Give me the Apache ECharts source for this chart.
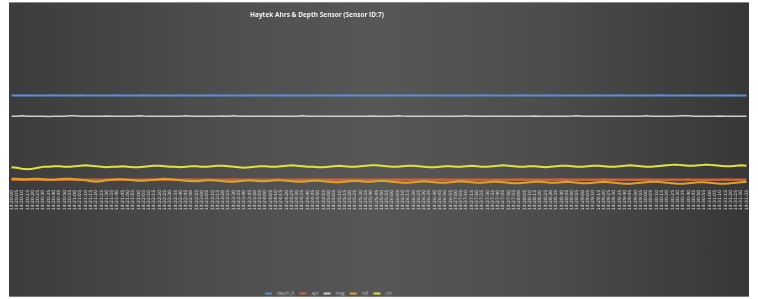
<!DOCTYPE html>
<html>
<head>
<meta charset="utf-8">
<script src="https://cdn.jsdelivr.net/npm/echarts@6/dist/echarts.min.js"></script>
<style>
  html, body { margin: 0; padding: 0; background: #fff; }
  #chart {
    position: absolute; left: 9px; top: 2px; width: 740px; height: 295px;
    background: linear-gradient(to right, #3c3c3c 0%, #4f4f4f 30%, #575757 50%, #4d4d4d 72%, #373737 100%);
    border-top: 1px solid #8a8a8a; border-bottom: 1px solid #7a7a7a;
    box-sizing: border-box;
  }
</style>
</head>
<body>
<div id="chart"></div>
<script>
'use strict';

var titleText = 'Haytek Ahrs & Depth Sensor (Sensor ID:7)';
var seriesNames = ['depth_ft', 'apr', 'mag', 'roll', 'cm'];

var timeLabels = (
  '14:20:00 14:20:05 14:20:10 14:20:15 14:20:20 14:20:25 14:20:30 14:20:35 14:20:40 14:20:45 14:20:50 14:20:55 ' +
  '14:21:00 14:21:05 14:21:10 14:21:15 14:21:20 14:21:25 14:21:30 14:21:35 14:21:40 14:21:45 14:21:50 14:21:55 ' +
  '14:22:00 14:22:05 14:22:10 14:22:15 14:22:20 14:22:25 14:22:30 14:22:35 14:22:40 14:22:45 14:22:50 14:22:55 ' +
  '14:23:00 14:23:05 14:23:10 14:23:15 14:23:20 14:23:25 14:23:30 14:23:35 14:23:40 14:23:45 14:23:50 14:23:55 ' +
  '14:24:00 14:24:05 14:24:10 14:24:15 14:24:20 14:24:25 14:24:30 14:24:35 14:24:40 14:24:45 14:24:50 14:24:55 ' +
  '14:25:00 14:25:05 14:25:10 14:25:15 14:25:20 14:25:25 14:25:30 14:25:35 14:25:40 14:25:45 14:25:50 14:25:55 ' +
  '14:26:00 14:26:05 14:26:10 14:26:15 14:26:20 14:26:25 14:26:30 14:26:35 14:26:40 14:26:45 14:26:50 14:26:55 ' +
  '14:27:00 14:27:05 14:27:10 14:27:15 14:27:20 14:27:25 14:27:30 14:27:35 14:27:40 14:27:45 14:27:50 14:27:55 ' +
  '14:28:00 14:28:05 14:28:10 14:28:15 14:28:20 14:28:25 14:28:30 14:28:35 14:28:40 14:28:45 14:28:50 14:28:55 ' +
  '14:29:00 14:29:05 14:29:10 14:29:15 14:29:20 14:29:25 14:29:30 14:29:35 14:29:40 14:29:45 14:29:50 14:29:55 ' +
  '14:30:00 14:30:05 14:30:10 14:30:15 14:30:20 14:30:25 14:30:30 14:30:35 14:30:40 14:30:45 14:30:50 14:30:55 ' +
  '14:31:00 14:31:05 14:31:10 14:31:15 14:31:20 14:31:25 14:31:30 14:31:35'
).split(' ');

var depthFt = [
  93, 93, 93.2, 93, 93, 92.9, 93, 93, 93.1, 93,
  93, 93, 93, 93.2, 93, 93, 92.9, 93, 93, 93,
  93.1, 93, 93, 93, 93, 93.2, 93, 93, 92.9, 93,
  93, 93, 93.1, 93, 93, 93, 93, 93, 93.2, 93,
  93, 92.9, 93, 93, 93, 93.1, 93, 93, 93, 93,
  93, 93.2, 93, 93, 92.9, 93, 93, 93, 93.1, 93,
  93, 93, 93, 93.2, 93, 93, 93, 92.9, 93, 93,
  93, 93.1, 93, 93, 93, 93, 93.2, 93, 93, 93,
  92.9, 93, 93, 93, 93.1, 93, 93, 93, 93, 93.2,
  93, 93, 93, 92.9, 93, 93, 93, 93.1, 93, 93,
  93, 93, 93.2, 93, 93, 93, 92.9, 93, 93, 93,
  93.1, 93, 93, 93, 93, 93.2, 93, 93, 93, 92.9,
  93, 93, 93, 93.1, 93, 93, 93, 93, 93.2, 93,
  93, 93, 92.9, 93, 93, 93, 93.1, 93, 93, 93
];

var apr = [
  8, 8, 8, 8.2, 8, 8, 8, 8, 8, 8,
  8, 8.2, 8, 8, 8, 8, 8, 8, 8.2, 8,
  8, 8, 8, 8, 8, 8, 8.2, 8, 8, 8,
  8, 8, 8, 8, 8.2, 8, 8, 8, 8, 8,
  8, 8, 8.2, 8, 8, 8, 8, 8, 8, 8,
  8.2, 8, 8, 8, 8, 8, 8, 8, 8.2, 8,
  8, 8, 8, 8, 8, 8.2, 8, 8, 8, 8,
  8, 8, 8, 8.2, 8, 8, 8, 8, 8, 8,
  8, 8.2, 8, 8, 8, 8, 8, 8, 8.2, 8,
  8, 8, 8, 8, 8, 8, 8.2, 8, 8, 8,
  8, 8, 8, 8, 8.2, 8, 8, 8, 8, 8,
  8, 8, 8.2, 8, 8, 8, 8, 8, 8, 8,
  8.2, 8, 8, 8, 8, 8, 8, 8, 8.2, 8,
  8, 8, 8, 8, 8, 8.2, 8, 8, 8, 8
];

var mag = [
  72, 72, 72.5, 72, 72, 72, 72, 71.8, 72, 72,
  72, 72.6, 72.4, 72, 72, 72, 72, 72, 72.3, 72,
  72, 72, 72, 72, 72.5, 72.2, 72, 72, 72, 72,
  72, 72, 72, 72.4, 72, 72, 72, 72, 72, 72,
  72.3, 72, 72.5, 72, 72, 72, 72, 72, 72, 72,
  72, 72, 72, 72, 72, 72.4, 72, 72, 72, 72,
  72, 72, 72, 72, 72, 72, 72, 72, 72.3, 72,
  72, 72, 72, 72.5, 72.2, 72, 72, 72, 72, 72,
  72, 72, 72, 72, 72, 72, 72.4, 72, 72, 72,
  72, 72, 72, 72, 72, 72, 72, 72, 72, 72.3,
  72, 72, 72, 72, 72, 72, 72.2, 72.5, 72, 72,
  72, 72, 72, 72, 72, 72, 72, 72, 72, 72,
  72.4, 72, 72, 72, 72, 72, 72.3, 72.6, 72.4, 72,
  72, 72, 72, 72, 72.3, 72, 72, 72, 72, 72
];

var roll = [
  9, 9, 8.5, 8.5, 9, 9, 8.5, 8, 8, 8.5,
  9, 9, 8.5, 8, 7.5, 6.5, 6, 6.5, 7.5, 8,
  8.5, 8.5, 8, 7.5, 7, 7, 7.5, 8, 8.5, 9,
  8.5, 8, 7.5, 7, 6.5, 6.5, 7, 7.5, 7.5, 7,
  6.5, 6, 6, 6.5, 7, 7.5, 7, 6.5, 6.5, 7,
  7.5, 7.5, 7, 6.5, 6, 6, 6.5, 7, 7, 6.5,
  6, 5.5, 5.5, 6, 6.5, 7, 6.5, 6, 6, 6.5,
  7, 6.5, 6, 5.5, 5, 5, 5.5, 6, 6.5, 6,
  5.5, 5, 5, 5.5, 6, 6.5, 6, 5.5, 5, 5,
  5.5, 6, 6, 5.5, 5, 4.5, 4.5, 5, 5.5, 6,
  6, 5.5, 5, 5, 5.5, 6, 5.5, 5, 4.5, 4.5,
  5, 5.5, 6, 5.5, 5, 4.5, 4, 4, 4.5, 5,
  5.5, 6, 6, 5.5, 5, 4.5, 4, 4, 4.5, 5,
  5.5, 5.5, 5, 4.5, 4, 4, 4.5, 5, 5.5, 6
];

var cm = [
  20.5, 20, 19, 18.5, 19, 20, 21, 21, 21.5, 21.5,
  21, 21, 21.5, 22, 22.5, 22, 21.5, 21, 20.5, 21,
  21, 21.5, 21, 20.5, 20.5, 21, 21.5, 22, 22, 21.5,
  21, 21, 20.5, 21, 21.5, 21.5, 21, 21, 21.5, 22,
  22, 21.5, 21, 20.5, 20, 20.5, 21, 21.5, 21.5, 21,
  21, 21.5, 22, 22.5, 22, 21.5, 21, 21, 20.5, 20.5,
  21, 21.5, 22, 21.5, 21, 21, 21.5, 22, 22.5, 22.5,
  22, 21.5, 21, 21, 21.5, 22, 22, 21.5, 21, 20.5,
  20.5, 21, 21.5, 21.5, 21, 21, 21.5, 22, 21.5, 21,
  21, 21.5, 22, 22.5, 22, 21.5, 21, 21, 21.5, 21.5,
  21, 20.5, 21, 21.5, 22, 22, 21.5, 21, 21, 21.5,
  22, 22, 21.5, 21, 21, 21.5, 22, 22.5, 22, 21.5,
  21, 21, 21.5, 22, 22.5, 23, 23, 22.5, 22, 22,
  22.5, 23, 23, 22.5, 22, 21.5, 21.5, 22, 22.5, 22
];

var seriesData = [depthFt, apr, mag, roll, cm];
var seriesColors = ['#5b8fd8', '#c8643c', '#cfcfcf', '#d9a52a', '#e4e23a'];
var seriesWidths = [2, 2.5, 1.5, 2, 2];

var chart = echarts.init(document.getElementById('chart'));

chart.setOption({
  backgroundColor: 'transparent',
  animation: false,
  title: {
    text: titleText,
    left: 236,
    top: 4,
    textStyle: { fontFamily: 'Open Sans', fontSize: 6.5, fontWeight: 'bold', color: '#f2f2f2' }
  },
  legend: {
    show: true,
    data: seriesNames,
    left: 256,
    top: 288,
    padding: 0,
    itemWidth: 7,
    itemHeight: 2,
    itemGap: 5,
    icon: 'rect',
    textStyle: { fontFamily: 'Open Sans', fontSize: 4.5, color: '#bdbdbd' }
  },
  grid: { left: 1, right: 2, top: 20, bottom: 21 },
  xAxis: {
    type: 'category',
    data: timeLabels,
    boundaryGap: false,
    position: 'bottom',
    offset: -88,
    axisLine: { show: false, onZero: false },
    axisTick: { show: false },
    axisLabel: {
      interval: 0,
      rotate: 90,
      margin: 3,
      fontFamily: 'DejaVu Sans',
      fontSize: 4.5,
      color: '#d9d9d9'
    },
    splitLine: { show: false }
  },
  yAxis: {
    type: 'value',
    min: -88,
    max: 166,
    axisLine: { show: false },
    axisTick: { show: false },
    axisLabel: { show: false },
    splitLine: { show: false }
  },
  series: seriesNames.map(function(name, i) {
    return {
      name: name,
      type: 'line',
      data: seriesData[i],
      showSymbol: false,
      symbol: 'none',
      lineStyle: { color: seriesColors[i], width: seriesWidths[i] },
      itemStyle: { color: seriesColors[i] }
    };
  })
});
</script>
</body>
</html>
